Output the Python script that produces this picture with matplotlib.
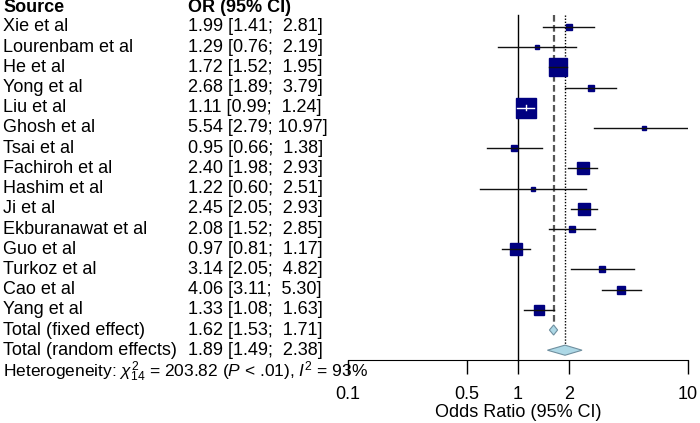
import matplotlib
matplotlib.use("Agg")
import matplotlib.pyplot as plt
import matplotlib.transforms as mtransforms
from matplotlib.patches import Polygon

plt.rcParams["font.family"] = ["Liberation Sans", "DejaVu Sans"]
plt.rcParams["mathtext.fontset"] = "custom"
plt.rcParams["mathtext.rm"] = "Liberation Sans"
plt.rcParams["mathtext.it"] = "Liberation Sans:italic"

studies = ["Xie et al", "Lourenbam et al", "He et al", "Yong et al", "Liu et al",
           "Ghosh et al", "Tsai et al", "Fachiroh et al", "Hashim et al", "Ji et al",
           "Ekburanawat et al", "Guo et al", "Turkoz et al", "Cao et al", "Yang et al"]
odds = [1.99, 1.29, 1.72, 2.68, 1.11, 5.54, 0.95, 2.40, 1.22, 2.45, 2.08, 0.97, 3.14, 4.06, 1.33]
lower = [1.41, 0.76, 1.52, 1.89, 0.99, 2.79, 0.66, 1.98, 0.60, 2.05, 1.52, 0.81, 2.05, 3.11, 1.08]
upper = [2.81, 2.19, 1.95, 3.79, 1.24, 10.97, 1.38, 2.93, 2.51, 2.93, 2.85, 1.17, 4.82, 5.30, 1.63]
# fixed-effect weights (%)
weights = [2.6, 1.1, 20.1, 2.6, 24.6, 0.7, 2.3, 8.1, 0.6, 9.8, 3.2, 9.2, 1.7, 4.4, 7.4]

totals = ["Total (fixed effect)", "Total (random effects)"]
total_or = [1.62, 1.89]
total_lo = [1.53, 1.49]
total_hi = [1.71, 2.38]

ticks = [0.1, 0.5, 1, 2, 10]
tick_labels = ["0.1", "0.5", "1", "2", "10"]

W, H = 700, 423
ROW0, ROWH = 27, 20.2
FS = 13


def row(pix):
    return (pix - ROW0) / ROWH


def ci_text(o, lo, hi):
    hi_s = f"{hi:.2f}"
    pad = "  " if len(hi_s) < 5 else " "
    return f"{o:.2f} [{lo:.2f};{pad}{hi_s}]"


fig = plt.figure(figsize=(7, 4.23), dpi=100)
ax = fig.add_axes([348 / W, 0, 340 / W, 1])
ax.set_xscale("log")
ax.set_xlim(0.1, 10)
ax.set_ylim(row(H), row(0))
ax.patch.set_visible(False)
for s in ["top", "right", "left"]:
    ax.spines[s].set_visible(False)
axis_y = row(360)
ax.spines["bottom"].set_position(("data", axis_y))
ax.set_yticks([])
ax.set_xticks(ticks)
ax.set_xticklabels(tick_labels)
ax.minorticks_off()
ax.tick_params(axis="x", direction="out", length=10, width=1, pad=9, labelsize=FS)

top_y = row(15)
# reference lines
ax.plot([1, 1], [top_y, axis_y], color="black", lw=1, zorder=1)
ax.plot([total_or[0]] * 2, [top_y, len(studies) - 0.25], color="#555555",
        lw=1.6, ls=(0, (3, 1.5)), zorder=1)
ax.plot([total_or[1]] * 2, [top_y, len(studies) + 1 - 0.25], color="black",
        lw=1, ls=(0, (1, 1.2)), zorder=1)

# studies
for i, (o, lo, hi, w) in enumerate(zip(odds, lower, upper, weights)):
    side_px = 3.9 * w ** 0.5
    ax.plot([o], [i], marker="s", ms=side_px * 0.72, color="#000080",
            mec="#000080", zorder=2)
    x0 = ax.transData.transform((lo, i))[0]
    x1 = ax.transData.transform((hi, i))[0]
    xc = ax.transData.transform((o, i))[0]
    inside = (xc - x0) < side_px / 2 and (x1 - xc) < side_px / 2
    ax.plot([lo, hi], [i, i], color="white" if inside else "#111111", lw=1, zorder=3)
    if inside:
        ax.plot([o, o], [i - 0.12, i + 0.12], color="white", lw=1, zorder=3)

# pooled diamonds
for k, (o, lo, hi) in enumerate(zip(total_or, total_lo, total_hi)):
    y = len(studies) + k
    d = Polygon([(lo, y), (o, y - 0.25), (hi, y), (o, y + 0.25)], closed=True,
                facecolor="#add8e6", edgecolor="#6f8f9f", lw=0.8, zorder=4)
    ax.add_patch(d)

# text columns
tr = mtransforms.blended_transform_factory(fig.transFigure, ax.transData)
x_src, x_or = 3 / W, 188 / W
ax.text(x_src, row(8), "Source", transform=tr, fontsize=FS, fontweight="bold",
        va="center", ha="left")
ax.text(x_or, row(8), "OR (95% CI)", transform=tr, fontsize=FS, fontweight="bold",
        va="center", ha="left")
for i, name in enumerate(studies + totals):
    vals = list(zip(odds + total_or, lower + total_lo, upper + total_hi))[i]
    ax.text(x_src, i, name, transform=tr, fontsize=FS, va="center", ha="left")
    ax.text(x_or, i, ci_text(*vals), transform=tr, fontsize=FS, va="center", ha="left")

ax.text(x_src, row(372),
        r"Heterogeneity: $\chi^2_{14}$ = 203.82 ($P$ < .01), $I^2$ = 93%",
        transform=tr, fontsize=FS - 0.5, va="center", ha="left")
ax.text(1, row(412), "Odds Ratio (95% CI)", fontsize=FS, va="center", ha="center")

fig.savefig("out.png", dpi=100)
